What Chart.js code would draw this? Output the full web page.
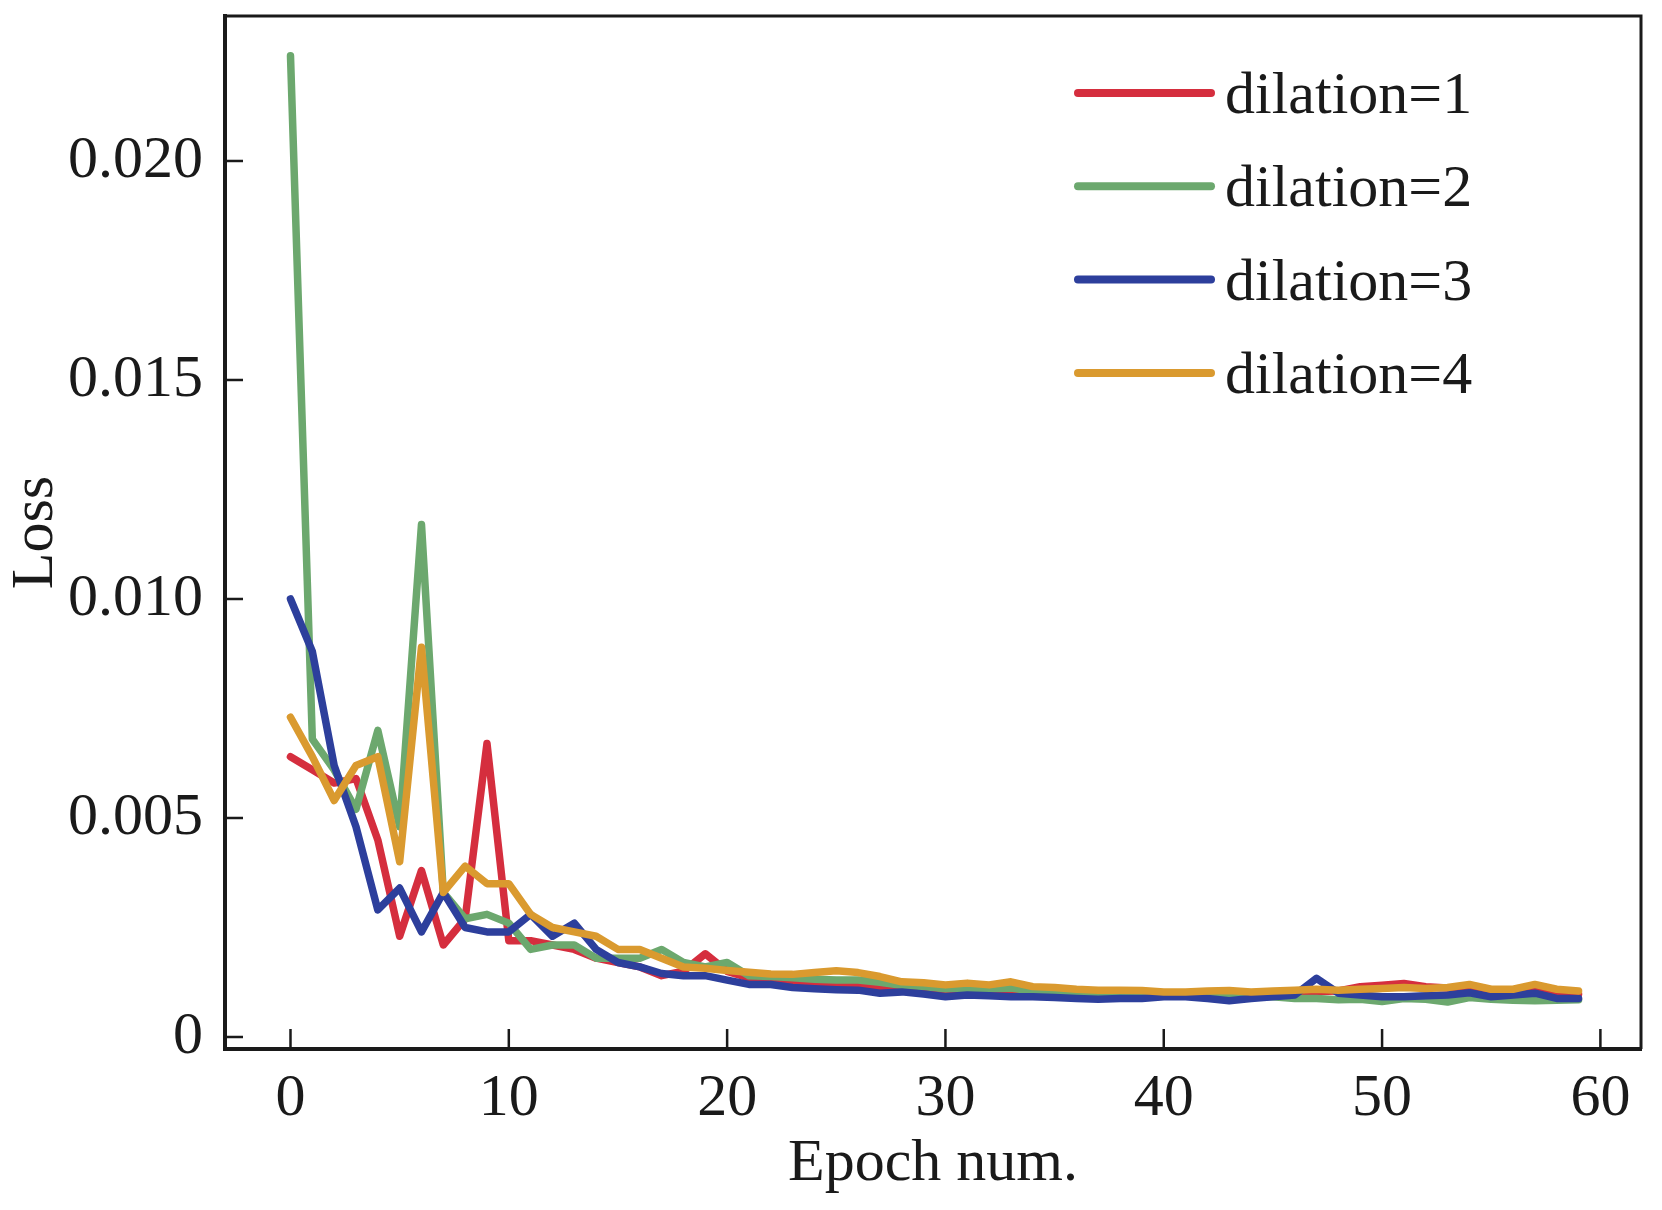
<!DOCTYPE html>
<html>
<head>
<meta charset="utf-8">
<script src="https://cdn.jsdelivr.net/npm/chart.js@4/dist/chart.umd.min.js"></script>
<style>
  html, body { margin: 0; padding: 0; background: #fff; }
  #wrap { width: 1662px; height: 1210px; }
</style>
</head>
<body>
<div id="wrap"><canvas id="lossChart" width="1662" height="1210"></canvas></div>
<script>
// epochs 0..59
var epochs = [0, 1, 2, 3, 4, 5, 6, 7, 8, 9,
  10, 11, 12, 13, 14, 15, 16, 17, 18, 19,
  20, 21, 22, 23, 24, 25, 26, 27, 28, 29,
  30, 31, 32, 33, 34, 35, 36, 37, 38, 39,
  40, 41, 42, 43, 44, 45, 46, 47, 48, 49,
  50, 51, 52, 53, 54, 55, 56, 57, 58, 59];

var seriesNames = ['dilation=1', 'dilation=2', 'dilation=3', 'dilation=4'];

var dil1 = [0.0064, 0.0061, 0.0058, 0.0059, 0.0045, 0.0023, 0.0038, 0.0021, 0.0027, 0.0067,
  0.0022, 0.0022, 0.0021, 0.0020, 0.0018, 0.0017, 0.0016, 0.0014, 0.0015, 0.0019,
  0.0015, 0.00135, 0.00132, 0.00125, 0.00122, 0.0012, 0.00118, 0.00112, 0.00113, 0.00108,
  0.00102, 0.00106, 0.00104, 0.00102, 0.0010, 0.00099, 0.00097, 0.00095, 0.00097, 0.00097,
  0.00099, 0.0010, 0.00097, 0.00094, 0.00097, 0.0010, 0.00103, 0.00104, 0.00105, 0.00115,
  0.00118, 0.00122, 0.00115, 0.00112, 0.0011, 0.0010, 0.00098, 0.00105, 0.0010, 0.00098];

var dil2 = [0.0224, 0.0068, 0.0061, 0.0052, 0.0070, 0.0048, 0.0117, 0.0033, 0.0027, 0.0028,
  0.0026, 0.0020, 0.0021, 0.0021, 0.0018, 0.0018, 0.0018, 0.0020, 0.0017, 0.0016,
  0.0017, 0.0014, 0.00138, 0.00135, 0.00132, 0.0013, 0.0013, 0.00125, 0.00118, 0.00115,
  0.0011, 0.00112, 0.0011, 0.00112, 0.00105, 0.00104, 0.0010, 0.00098, 0.00098, 0.00097,
  0.00096, 0.00095, 0.00094, 0.00093, 0.00094, 0.00092, 0.00088, 0.00088, 0.00085, 0.00086,
  0.00081, 0.00088, 0.00086, 0.0008, 0.0009, 0.00086, 0.00084, 0.00083, 0.00084, 0.00085];

var dil3 = [0.0100, 0.0088, 0.0062, 0.0048, 0.0029, 0.0034, 0.0024, 0.0033, 0.0025, 0.0024,
  0.0024, 0.0028, 0.0023, 0.0026, 0.0020, 0.0017, 0.0016, 0.00145, 0.0014, 0.0014,
  0.0013, 0.0012, 0.0012, 0.00113, 0.0011, 0.00108, 0.00107, 0.0010, 0.00103, 0.00098,
  0.00092, 0.00096, 0.00094, 0.00092, 0.00092, 0.0009, 0.00088, 0.00086, 0.00088, 0.00088,
  0.00092, 0.00092, 0.00088, 0.00083, 0.00088, 0.00092, 0.00096, 0.00134, 0.0010, 0.00096,
  0.00092, 0.00092, 0.00094, 0.00096, 0.00101, 0.00092, 0.00096, 0.0010, 0.00088, 0.00088];

var dil4 = [0.0073, 0.0064, 0.0054, 0.0062, 0.0064, 0.0040, 0.0089, 0.0033, 0.0039, 0.0035,
  0.0035, 0.0028, 0.0025, 0.0024, 0.0023, 0.0020, 0.0020, 0.0018, 0.0016, 0.00157,
  0.00152, 0.00148, 0.00144, 0.00143, 0.00147, 0.00151, 0.00147, 0.00138, 0.00126, 0.00124,
  0.00119, 0.00123, 0.00119, 0.00126, 0.00115, 0.00113, 0.00109, 0.00107, 0.00107, 0.00106,
  0.00103, 0.00103, 0.00105, 0.00106, 0.00103, 0.00105, 0.00107, 0.00109, 0.00107, 0.00109,
  0.00111, 0.00113, 0.00111, 0.00113, 0.0012, 0.00109, 0.00109, 0.0012, 0.00109, 0.00105];

var xTicks = [0, 10, 20, 30, 40, 50, 60];
var yTicks = [0, 0.005, 0.010, 0.015, 0.020];
var yTickLabels = ['0', '0.005', '0.010', '0.015', '0.020'];

var colors = ['#d52e3e', '#6ca86e', '#2d3f9c', '#da9a2f'];
var FONT = '"Liberation Serif", "Times New Roman", serif';

function pts(arr) {
  return arr.map(function (v, i) { return { x: epochs[i], y: v }; });
}

// inward ticks + top/right frame
var frameTicks = {
  id: 'frameTicks',
  afterDraw: function (chart) {
    var c = chart.ctx, a = chart.chartArea;
    var xs = chart.scales.x, ys = chart.scales.y;
    c.save();
    c.strokeStyle = '#1a1a1a';
    c.lineWidth = 3;
    c.beginPath();
    c.moveTo(a.left, a.top); c.lineTo(a.right, a.top); c.lineTo(a.right, a.bottom);
    c.stroke();
    c.lineWidth = 2.5;
    xTicks.forEach(function (t) {
      var px = xs.getPixelForValue(t);
      c.beginPath(); c.moveTo(px, a.bottom); c.lineTo(px, a.bottom - 20); c.stroke();
    });
    yTicks.forEach(function (t) {
      var py = ys.getPixelForValue(t);
      c.beginPath(); c.moveTo(a.left, py); c.lineTo(a.left + 18, py); c.stroke();
    });
    c.restore();
  }
};

// legend inside plot, top right
var lineLegend = {
  id: 'lineLegend',
  afterDraw: function (chart) {
    var c = chart.ctx;
    c.save();
    c.font = '60px ' + FONT;
    c.textBaseline = 'alphabetic';
    c.fillStyle = '#1a1a1a';
    chart.data.datasets.forEach(function (ds, i) {
      var y = 93 + i * 93.3;
      c.strokeStyle = ds.borderColor;
      c.lineWidth = 8;
      c.lineCap = 'round';
      c.beginPath(); c.moveTo(1078, y); c.lineTo(1211, y); c.stroke();
      c.fillText(ds.label, 1225, y + 20);
    });
    c.restore();
  }
};

var ctx = document.getElementById('lossChart').getContext('2d');
var chart = new Chart(ctx, {
  type: 'line',
  data: {
    datasets: [
      { label: seriesNames[0], data: pts(dil1), borderColor: colors[0], order: 4 },
      { label: seriesNames[1], data: pts(dil2), borderColor: colors[1], order: 3 },
      { label: seriesNames[2], data: pts(dil3), borderColor: colors[2], order: 2 },
      { label: seriesNames[3], data: pts(dil4), borderColor: colors[3], order: 1 }
    ]
  },
  options: {
    responsive: false,
    animation: false,
    devicePixelRatio: 1,
    layout: { padding: { left: 0, top: 16, right: 21, bottom: 0 } },
    elements: {
      line: { borderWidth: 7.5, tension: 0, borderJoinStyle: 'round', borderCapStyle: 'round', fill: false },
      point: { radius: 0 }
    },
    plugins: {
      legend: { display: false },
      tooltip: { enabled: false }
    },
    scales: {
      x: {
        type: 'linear',
        min: -3,
        max: 61.86,
        afterBuildTicks: function (s) { s.ticks = xTicks.map(function (v) { return { value: v }; }); },
        afterFit: function (s) { s.height = 161; s.paddingLeft = 0; s.paddingRight = 0; },
        grid: { display: false, drawTicks: false },
        border: { display: true, width: 4, color: '#1a1a1a' },
        ticks: {
          color: '#1a1a1a',
          font: { family: FONT, size: 60 },
          padding: 14,
          maxRotation: 0,
          autoSkip: false
        },
        title: {
          display: true,
          text: 'Epoch num.',
          color: '#1a1a1a',
          font: { family: FONT, size: 60 },
          padding: { top: 0, bottom: 10 }
        }
      },
      y: {
        type: 'linear',
        min: -0.000274,
        max: 0.02331,
        afterBuildTicks: function (s) { s.ticks = yTicks.map(function (v) { return { value: v }; }); },
        afterFit: function (s) { s.width = 225; s.paddingTop = 0; s.paddingBottom = 0; },
        grid: { display: false, drawTicks: false },
        border: { display: true, width: 4, color: '#1a1a1a' },
        ticks: {
          color: '#1a1a1a',
          font: { family: FONT, size: 60 },
          padding: 22,
          autoSkip: false,
          callback: function (v, i) { return yTickLabels[i]; }
        },
        title: {
          display: true,
          text: 'Loss',
          color: '#1a1a1a',
          font: { family: FONT, size: 60 },
          padding: { top: 0, bottom: 0 }
        }
      }
    }
  },
  plugins: [frameTicks, lineLegend]
});
</script>
</body>
</html>
